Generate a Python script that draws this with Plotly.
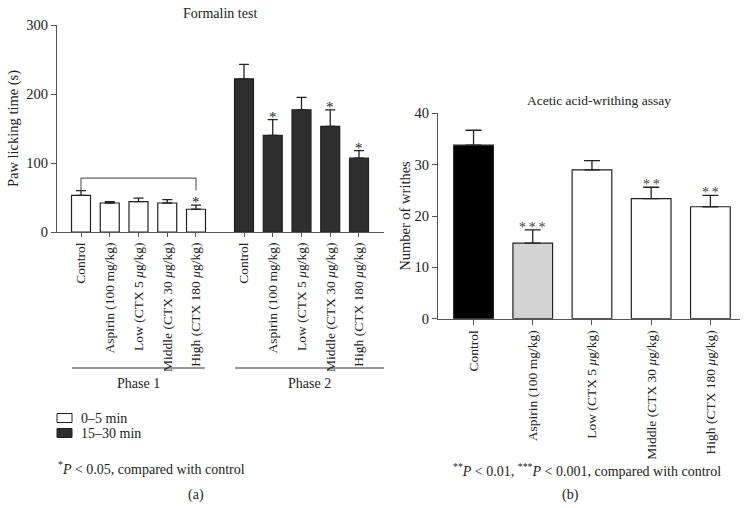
import plotly.graph_objects as go

# ---------------- data ----------------
groups = ["Control", "Aspirin (100 mg/kg)", "Low (CTX 5 <i>μ</i>g/kg)",
          "Middle (CTX 30 <i>μ</i>g/kg)", "High (CTX 180 <i>μ</i>g/kg)"]

# Formalin test (paw licking time, s)
phase1_mean = [53, 42, 44, 42, 33]
phase1_sem = [7, 2, 5, 5, 6]
phase1_sig = ["", "", "", "", "*"]
phase2_mean = [222, 140, 177, 153, 107]
phase2_sem = [21, 23, 18, 24, 11]
phase2_sig = ["", "*", "", "*", "*"]

# Acetic acid-writhing assay (number of writhes)
writhes_mean = [33.8, 14.7, 29.0, 23.4, 21.8]
writhes_sem = [2.9, 2.6, 1.8, 2.2, 2.2]
writhes_sig = ["", "***", "", "**", "**"]
writhes_colors = ["#000000", "#d3d3d3", "#ffffff", "#ffffff", "#ffffff"]

phase_names = ["Phase 1", "Phase 2"]
legend_names = ["0–5 min", "15–30 min"]
legend_colors = ["#ffffff", "#2e2e2e"]

# ---------------- layout helpers ----------------
W, H = 748, 508
FONT = "Liberation Serif"
DARK = "#2e2e2e"
EDGE = "#222222"
AXC = "#555555"
TXT = "#222222"

def px_x(p):
    return p / W

def px_y(p):
    return 1 - p / H

gap = 0.67
pos1 = [i for i in range(len(groups))]
pos2 = [i + len(groups) + gap for i in range(len(groups))]

fig = go.Figure()

fig.add_trace(go.Bar(
    x=pos1, y=phase1_mean, name=legend_names[0], width=0.66,
    marker=dict(color=legend_colors[0], line=dict(color=EDGE, width=1.2)),
    error_y=dict(type="data", symmetric=False, array=phase1_sem,
                 arrayminus=[0] * len(phase1_sem), color=EDGE, thickness=1.3, width=5),
    xaxis="x", yaxis="y"))
fig.add_trace(go.Bar(
    x=pos2, y=phase2_mean, name=legend_names[1], width=0.66,
    marker=dict(color=legend_colors[1], line=dict(color=EDGE, width=1.2)),
    error_y=dict(type="data", symmetric=False, array=phase2_sem,
                 arrayminus=[0] * len(phase2_sem), color=EDGE, thickness=1.3, width=5),
    xaxis="x", yaxis="y"))

xr = list(range(len(groups)))
fig.add_trace(go.Bar(
    x=xr, y=writhes_mean, width=0.67,
    marker=dict(color=writhes_colors, line=dict(color=EDGE, width=1.2)),
    error_y=dict(type="data", symmetric=False, array=writhes_sem,
                 arrayminus=[0] * len(writhes_sem), color=EDGE, thickness=1.3, width=8),
    xaxis="x2", yaxis="y2"))

annotations = []
# significance stars
for xs, means, sems, sigs in [(pos1, phase1_mean, phase1_sem, phase1_sig),
                              (pos2, phase2_mean, phase2_sem, phase2_sig)]:
    for x, m, s, g in zip(xs, means, sems, sigs):
        if g:
            annotations.append(dict(x=x, y=m + s, xref="x", yref="y", text=g,
                                    showarrow=False, yanchor="bottom", yshift=-7,
                                    font=dict(family=FONT, size=15, color=TXT)))
for x, m, s, g in zip(xr, writhes_mean, writhes_sem, writhes_sig):
    if g:
        annotations.append(dict(x=x, y=m + s, xref="x2", yref="y2", text="\u2009".join(g),
                                showarrow=False, yanchor="bottom", yshift=-7,
                                font=dict(family=FONT, size=14, color="#444444")))

shapes = []
# bracket over phase 1
br_y = 78
shapes.append(dict(type="path", xref="x", yref="y",
                   path=f"M {pos1[0]},{phase1_mean[0] + phase1_sem[0]} L {pos1[0]},{br_y} "
                        f"L {pos1[-1]},{br_y} L {pos1[-1]},{phase1_mean[0] + phase1_sem[0]}",
                   line=dict(color="#666666", width=1.2)))
# phase lines
x_end = 10.54
line_y = px_y(368)
phase_spans = [(pos1[0] - 0.31, pos1[-1] + 0.31), (pos2[0] - 0.31, x_end)]
for (a, b), name in zip(phase_spans, phase_names):
    shapes.append(dict(type="line", xref="x", yref="paper", x0=a, x1=b, y0=line_y, y1=line_y,
                       line=dict(color="#333333", width=1.2)))
    annotations.append(dict(x=(a + b) / 2, y=px_y(383), xref="x", yref="paper",
                            text=name, showarrow=False, yanchor="middle",
                            font=dict(family=FONT, size=14, color=TXT)))

# manual legend
for i, (name, col) in enumerate(zip(legend_names, legend_colors)):
    yc = 418 + 15 * i
    shapes.append(dict(type="rect", xref="paper", yref="paper",
                       x0=px_x(57), x1=px_x(72), y0=px_y(yc + 4.5), y1=px_y(yc - 4.5),
                       fillcolor=col, line=dict(color=EDGE, width=1)))
    annotations.append(dict(x=px_x(79), y=px_y(yc), xref="paper", yref="paper",
                            xanchor="left", yanchor="middle", text=name, showarrow=False,
                            font=dict(family=FONT, size=14, color=TXT)))

# titles & footnotes
def note(x, y, text, size=14, xanchor="center"):
    return dict(x=px_x(x), y=px_y(y), xref="paper", yref="paper", text=text,
                xanchor=xanchor, yanchor="middle", showarrow=False,
                font=dict(family=FONT, size=size, color=TXT))

annotations += [
    note(220, 14, "Formalin test", 14),
    note(599, 101, "Acetic acid-writhing assay", 13.5),
    note(56, 468, "<sup>*</sup><i>P</i> &lt; 0.05, compared with control", 14, "left"),
    note(196, 495, "(a)", 14),
    note(587, 470, "<sup>**</sup><i>P</i> &lt; 0.01, <sup>***</sup><i>P</i> &lt; 0.001, compared with control", 14),
    note(570, 495, "(b)", 14),
]

axis_common = dict(showgrid=False, zeroline=False, showline=True, linecolor=AXC, linewidth=1.3,
                   ticks="outside", tickcolor=AXC, tickwidth=1.2, automargin=False)
xtickfont = dict(family=FONT, size=13.5, color=TXT)
ytickfont = dict(family=FONT, size=14.5, color=TXT)

fig.update_layout(
    width=W, height=H, margin=dict(l=0, r=0, t=0, b=0, autoexpand=False),
    paper_bgcolor="white", plot_bgcolor="white", showlegend=False,
    font=dict(family=FONT, color=TXT),
    xaxis=dict(domain=[px_x(57), px_x(384)], range=[-0.835, x_end],
               tickvals=pos1 + pos2, ticktext=groups + groups, tickangle=-90,
               ticklen=4, anchor="y", tickfont=xtickfont, **axis_common),
    yaxis=dict(domain=[px_y(232), px_y(25)], range=[0, 300], tickvals=[0, 100, 200, 300],
               ticklen=5, anchor="x", tickfont=ytickfont,
               title=dict(text="Paw licking time (s)", font=dict(family=FONT, size=14.5, color=TXT),
                          standoff=4),
               **axis_common),
    xaxis2=dict(domain=[px_x(438), px_x(740)], range=[-0.6, 4.5],
                tickvals=xr, ticktext=groups, tickangle=-90, ticklen=5, anchor="y2",
                tickfont=xtickfont, **axis_common),
    yaxis2=dict(domain=[px_y(318.7), px_y(113.3)], range=[0, 40], tickvals=[0, 10, 20, 30, 40],
                ticklen=5, anchor="x2", tickfont=ytickfont,
                title=dict(text="Number of writhes", font=dict(family=FONT, size=14.5, color=TXT),
                           standoff=0),
                **axis_common),
    barmode="overlay",
    shapes=shapes, annotations=annotations,
)

# remove the default page margin so the figure sits at the window origin
fig.write_html("out.html", config={"displayModeBar": False},
               post_script="document.body.style.margin='0';document.body.style.overflow='hidden';")
